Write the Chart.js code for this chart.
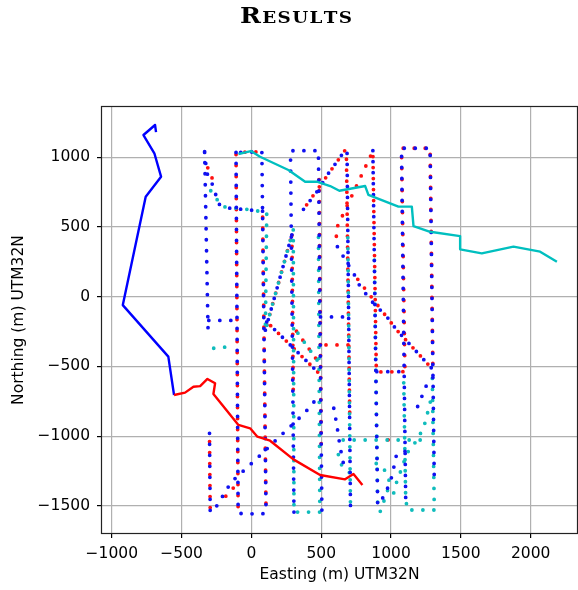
<!DOCTYPE html>
<html>
<head>
<meta charset="utf-8">
<script src="https://cdn.jsdelivr.net/npm/chart.js@4.4.0/dist/chart.umd.min.js"></script>
<style>
  html, body { margin: 0; padding: 0; background: #fff; }
  #wrap { width: 578px; height: 590px; }
</style>
</head>
<body>
<div id="wrap"><canvas id="c" width="578" height="590"></canvas></div>
<script>
// Axis ticks and labels
const xTicks = [-1000, -500, 0, 500, 1000, 1500, 2000];
const yTicks = [-1500, -1000, -500, 0, 500, 1000];
const titleText = 'Results';
const xLabel = 'Easting (m) UTM32N';
const yLabel = 'Northing (m) UTM32N';

// Solid trajectories (Easting, Northing in metres)
const blueTrack = [[-683,1181],[-690,1232],[-773,1160],[-695,1029],[-647,861],[-757,717],[-921,-60],[-595,-430],[-554,-705]];
const redTrack = [[-554,-705],[-475,-688],[-415,-646],[-367,-641],[-315,-590],[-260,-621],[-272,-698],[-93,-920],[-9,-944],[43,-1004],[134,-1033],[301,-1167],[492,-1279],[671,-1310],[731,-1272],[795,-1351]];
const cyanTrack = [[-93,1024],[-4,1045],[62,1004],[265,909],[385,825],[469,825],[564,794],[630,760],[815,794],[838,730],[1053,646],[1149,646],[1161,507],[1280,466],[1495,435],[1495,340],[1650,311],[1877,359],[2068,323],[2188,251]];

// Sampled survey lines, null separates legs
const blueSurvey = [
  [-335,1040],[-310,-260], null,
  [-305,-170],[-110,-170], null,
  [-335,1035],[-320,890],[-272,790],[-236,665],[-167,636],[-10,622],[120,610], null,
  [-110,1035],[-95,-1545],[-80,-1555],[75,-1560],[105,-1545],[75,1040],[-110,1035], null,
  [-300,-980],[-295,-1545],[-260,-1520],[-145,-1330],[-25,-1220],[35,-1165],[205,-1000],[265,-945],[385,-830],[435,-770],[495,-700], null,
  [305,-1545],[280,1040],[300,1048],[480,1048],[505,-1545], null,
  [373,627],[469,753],[552,885],[672,1052],[685,1045],[710,-1545], null,
  [870,1048],[905,-1545], null,
  [898,-538],[1089,-538], null,
  [1105,-1440],[1075,1065],[1280,1065],[1310,-1320], null,
  [616,359],[738,156],[779,72],[874,-47],[970,-143],[1041,-239],[1292,-514], null,
  [1300,-580],[1252,-640],[1193,-783],[1157,-855], null,
  [1100,-1110],[1040,-1130],[1006,-1290],[958,-1420],[920,-1470], null,
  [110,-180],[480,-545], null,
  [495,-145],[700,-145], null,
  [100,-240],[300,480], null,
  [590,-800],[612,-920],[635,-1076],[666,-1231]
];
const redSurvey = [
  [-330,960],[-300,900],[-270,820], null,
  [-300,-1000],[-295,-1545], null,
  [-210,-1460],[-100,-1340], null,
  [-95,-1545],[-110,1035],[75,1040], null,
  [80,610],[105,-1545], null,
  [100,-240],[300,480], null,
  [110,-180],[480,-545], null,
  [300,-215],[495,-490], null,
  [290,480],[300,-700], null,
  [485,880],[500,-1065], null,
  [373,627],[672,1052],[680,1050],[705,-900], null,
  [870,1045],[604,478],[616,359], null,
  [870,1045],[895,-540],[1089,-538], null,
  [1100,-540],[1075,1065],[1280,1065],[1300,-530], null,
  [738,156],[1041,-239],[1292,-514], null,
  [495,-346],[700,-346], null,
  [940,-1028],[1040,-1025]
];
const cyanSurvey = [
  [-324,807],[-248,699],[-200,645],[-33,627],[110,605],[100,-240],[300,480],[305,-1545],[490,-1545],[480,480], null,
  [-310,-330],[-272,-370],[-176,-360], null,
  [300,-215],[495,-490], null,
  [690,480],[710,-1545], null,
  [880,320],[905,-1540], null,
  [600,-1028],[1265,-1028], null,
  [1090,-560],[1105,-1440],[1116,-1530],[1310,-1530],[1295,-540], null,
  [1295,-700],[1244,-904],[1196,-1016],[1113,-1124],[1077,-1231],[1041,-1327],[1006,-1458], null,
  [612,-1076],[635,-1195],[707,-1267], null,
  [845,-1167],[946,-1227],[993,-1334],[969,-1410],[922,-1543]
];

const toXY = arr => arr.map(p => p ? { x: p[0], y: p[1] } : { x: null, y: null });
const fmt = v => (v < 0 ? '\u2212' + Math.abs(v) : String(v));

Chart.defaults.font.family = '"DejaVu Sans", sans-serif';
Chart.defaults.color = '#000';

function solid(data, color, order) {
  return { data: toXY(data), borderColor: color, borderWidth: 2.4, pointRadius: 0,
           tension: 0, order, borderJoinStyle: 'round', borderCapStyle: 'butt' };
}
function dotted(data, color, offset, order) {
  return { data: toXY(data), borderColor: color, borderWidth: 3.8, pointRadius: 0,
           tension: 0, order, borderDash: [0, 11], borderDashOffset: offset,
           borderCapStyle: 'round', spanGaps: false };
}

// Box around the axes plus the small-caps heading
const framePlugin = {
  id: 'frame',
  afterDatasetsDraw(chart) {
    const { ctx, chartArea: a } = chart;
    ctx.save();
    ctx.strokeStyle = '#222';
    ctx.lineWidth = 1.2;
    ctx.strokeRect(Math.round(a.left) - 0.5, Math.round(a.top) - 0.5,
                   Math.round(a.right - a.left) + 1, Math.round(a.bottom - a.top) + 1);
    ctx.restore();
  },
  afterDraw(chart) {
    const ctx = chart.ctx;
    const first = titleText[0];
    const rest = titleText.slice(1).toUpperCase();
    ctx.save();
    ctx.fillStyle = '#000';
    ctx.textBaseline = 'alphabetic';
    const bigFont = 'bold 22px "DejaVu Serif", serif';
    const smallFont = 'bold 16px "DejaVu Serif", serif';
    const gap = 1.2;
    ctx.font = bigFont;
    const w1 = ctx.measureText(first).width;
    ctx.font = smallFont;
    const widths = [...rest].map(ch => ctx.measureText(ch).width);
    const natural = w1 + gap + widths.reduce((s, w) => s + w + gap, 0) - gap;
    const target = 112;
    const sx = target / natural;
    ctx.translate(296 - target / 2, 23);
    ctx.scale(sx, 1);
    ctx.font = bigFont;
    ctx.fillText(first, 0, 0);
    ctx.font = smallFont;
    let x = w1 + gap;
    [...rest].forEach((ch, i) => { ctx.fillText(ch, x, 0); x += widths[i] + gap; });
    ctx.restore();
  }
};

new Chart(document.getElementById('c'), {
  type: 'line',
  data: {
    datasets: [
      solid(cyanTrack, '#00bfbf', 0),
      solid(redTrack, '#ff0000', 0),
      solid(blueTrack, '#0000ff', 0),
      dotted(blueSurvey, '#1010f0', 0, 1),
      dotted(cyanSurvey, '#10bcbc', 3, 2),
      dotted(redSurvey, '#ff1010', 5.5, 3)
    ]
  },
  options: {
    responsive: false,
    animation: false,
    events: [],
    layout: { padding: { top: 107, right: 1, bottom: 0, left: 0 } },
    plugins: { legend: { display: false }, tooltip: { enabled: false }, title: { display: false } },
    scales: {
      x: {
        type: 'linear', min: -1070, max: 2332, bounds: 'data',
        afterBuildTicks: s => { s.ticks = xTicks.map(v => ({ value: v })); },
        afterFit: s => { s.height = 57; },
        grid: { color: '#b0b0b0', lineWidth: 1.2, tickColor: '#000', tickLength: 5, drawTicks: true },
        border: { display: false },
        ticks: { callback: fmt, color: '#000', padding: 7, font: { size: 15.5 }, maxRotation: 0, autoSkip: false },
        title: { display: true, text: xLabel, color: '#000', font: { size: 15.5 }, padding: { top: 0, bottom: 6 } }
      },
      y: {
        type: 'linear', min: -1695, max: 1361, bounds: 'data',
        afterBuildTicks: s => { s.ticks = yTicks.map(v => ({ value: v })); },
        afterFit: s => { s.width = 102; },
        grid: { color: '#b0b0b0', lineWidth: 1.2, tickColor: '#000', tickLength: 5, drawTicks: true },
        border: { display: false },
        ticks: { callback: fmt, color: '#000', padding: 7, font: { size: 15.5 }, autoSkip: false },
        title: { display: true, text: yLabel, color: '#000', font: { size: 15.5 }, padding: { top: 10, bottom: 0 } }
      }
    }
  },
  plugins: [framePlugin]
});
</script>
</body>
</html>
